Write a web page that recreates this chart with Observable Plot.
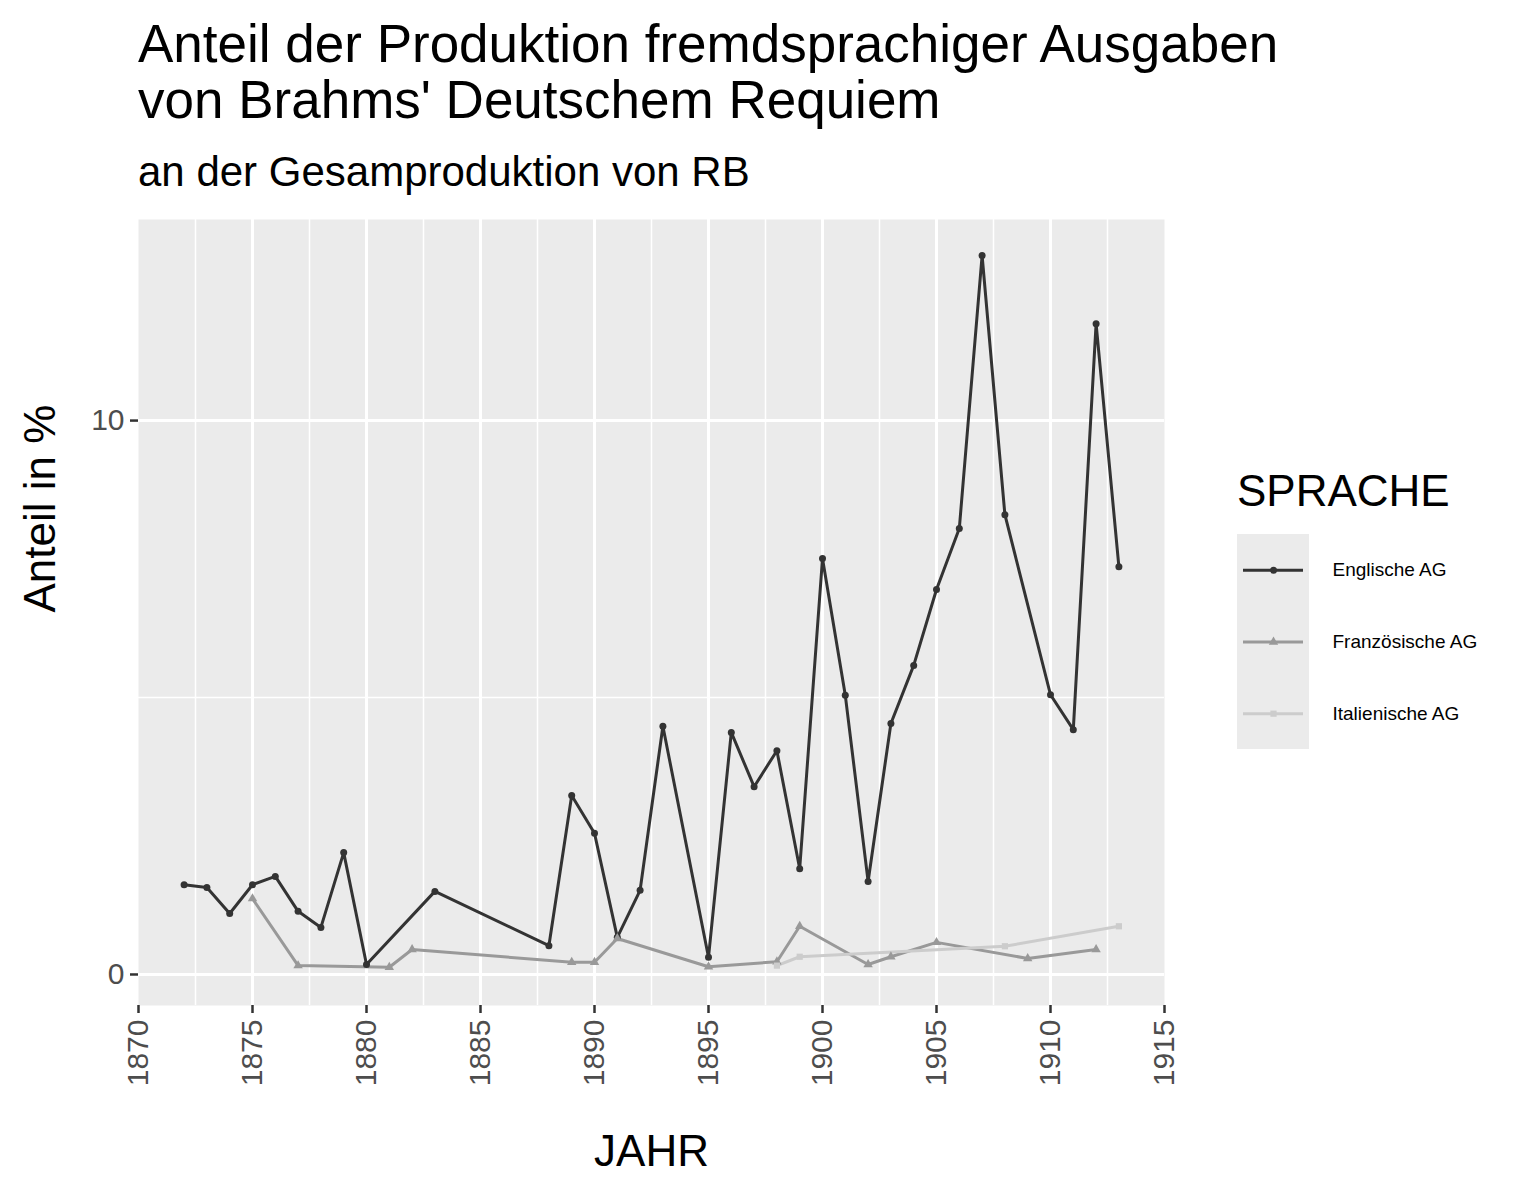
<!DOCTYPE html>
<html><head><meta charset="utf-8">
<script src="https://cdn.jsdelivr.net/npm/d3@7"></script>
<script src="https://cdn.jsdelivr.net/npm/@observablehq/plot@0.6"></script>
<style>
body{margin:0;background:#fff;font-family:"Liberation Sans",Arial,sans-serif;}
#wrap{position:relative;width:1535px;height:1181px;}
.t{position:absolute;left:138px;color:#000;white-space:nowrap;}
</style></head><body>
<div id="wrap">
<div class="t" style="top:16px;font-size:53px;line-height:56px;">Anteil der Produktion fremdsprachiger Ausgaben<br>von Brahms' Deutschem Requiem</div>
<div class="t" style="top:148px;font-size:42px;">an der Gesamproduktion von RB</div>
<div id="chart" style="position:absolute;left:0;top:200px;"></div>
<div id="legend" style="position:absolute;left:1237px;top:466px;"></div>
</div>
<script>
const engYears=[1872,1873,1874,1875,1876,1877,1878,1879,1880,1883,1888,1889,1890,1891,1892,1893,1895,1896,1897,1898,1899,1900,1901,1902,1903,1904,1905,1906,1907,1908,1910,1911,1912,1913];
const engVals=[1.62,1.57,1.10,1.62,1.77,1.14,0.85,2.20,0.18,1.50,0.52,3.23,2.55,0.67,1.52,4.48,0.31,4.37,3.39,4.04,1.91,7.51,5.04,1.68,4.53,5.58,6.95,8.05,12.98,8.30,5.05,4.42,11.75,7.36];
const frYears=[1875,1877,1881,1882,1889,1890,1891,1895,1898,1899,1902,1903,1905,1909,1912];
const frVals=[1.37,0.16,0.13,0.45,0.22,0.22,0.65,0.14,0.23,0.87,0.18,0.32,0.58,0.29,0.45];
const itYears=[1898,1899,1908,1913];
const itVals=[0.16,0.32,0.51,0.87];
const series=["Englische AG","Französische AG","Italienische AG"];
const colors=["#333333","#999999","#cccccc"];
const symbols=["circle","triangle","square"];
const xTicks=d3.range(1870,1916,5);
const xMinor=d3.range(1872.5,1915,5);
const yTicks=[0,10];
const yMinor=[5];

const data=[
 ...engYears.map((y,i)=>({JAHR:y,v:engVals[i],s:series[0]})),
 ...frYears.map((y,i)=>({JAHR:y,v:frVals[i],s:series[1]})),
 ...itYears.map((y,i)=>({JAHR:y,v:itVals[i],s:series[2]}))
];
const y0=-0.56, ppu=55.4, ppx=1026/45;

const chart=Plot.plot({
 width:1535,height:981,
 marginLeft:138,marginRight:371,marginTop:19,marginBottom:176,
 style:{fontFamily:"'Liberation Sans', Arial, sans-serif",fontSize:"30px",color:"#4d4d4d",background:"transparent"},
 x:{domain:[1870,1915],label:null},
 y:{domain:[y0,13.63],label:null},
 color:{domain:series,range:colors},
 symbol:{domain:series,range:symbols},
 marks:[
  Plot.frame({fill:"#EBEBEB",stroke:null}),
  Plot.ruleX(xMinor,{stroke:"#fff",strokeWidth:1.5}),
  Plot.ruleY(yMinor,{stroke:"#fff",strokeWidth:1.5}),
  Plot.ruleX(xTicks.filter(d=>d>1870&&d<1915),{stroke:"#fff",strokeWidth:3}),
  Plot.ruleY(yTicks,{stroke:"#fff",strokeWidth:3}),
  Plot.line(data,{x:"JAHR",y:"v",z:"s",stroke:"s",strokeWidth:3}),
  Plot.dot(data,{x:"JAHR",y:"v",fill:"s",symbol:"s",r:3.5,stroke:null}),
  Plot.ruleX(xTicks,{y1:y0,y2:y0-8/ppu,stroke:"#333",strokeWidth:2.5}),
  Plot.ruleY(yTicks,{x1:1870,x2:1870-8/ppx,stroke:"#333",strokeWidth:2.5}),
  Plot.axisX({ticks:xTicks,tickFormat:"d",tickRotate:-90,tickSize:0,tickPadding:14,color:"#4d4d4d",label:null}),
  Plot.axisY({ticks:yTicks,tickSize:0,tickPadding:14,color:"#4d4d4d",label:null}),
  Plot.text(["JAHR"],{frameAnchor:"bottom",dy:160,fontSize:44,fill:"#000",lineAnchor:"bottom"}),
  Plot.text(["Anteil in %"],{frameAnchor:"left",dx:-98,rotate:-90,fontSize:44,fill:"#000"})
 ]
});
document.getElementById("chart").append(chart);

const lg=document.getElementById("legend");
lg.innerHTML=`<div style="font-size:44px;color:#000;margin-bottom:18px;">SPRACHE</div>`;
const ls=Plot.plot({
 width:298,height:215,margin:0,
 style:{fontFamily:"'Liberation Sans', Arial, sans-serif",background:"transparent"},
 x:{domain:[0,298],axis:null},y:{domain:[0,3],axis:null,reverse:true},
 color:{domain:series,range:colors},symbol:{domain:series,range:symbols},
 marks:[
  Plot.rect([0],{x1:0,x2:72,y1:0,y2:3,fill:"#EBEBEB"}),
  Plot.ruleY(series.map((s,i)=>({i:i+0.5,s})),{y:"i",x1:6,x2:66,stroke:"s",strokeWidth:3}),
  Plot.dot(series.map((s,i)=>({i:i+0.5,s})),{x:36,y:"i",fill:"s",symbol:"s",r:3.5}),
  Plot.text(series.map((s,i)=>({i:i+0.5,s})),{x:95,y:"i",text:"s",textAnchor:"start",fontSize:19,fill:"#000"})
 ]
});
lg.append(ls);
</script>
</body></html>
